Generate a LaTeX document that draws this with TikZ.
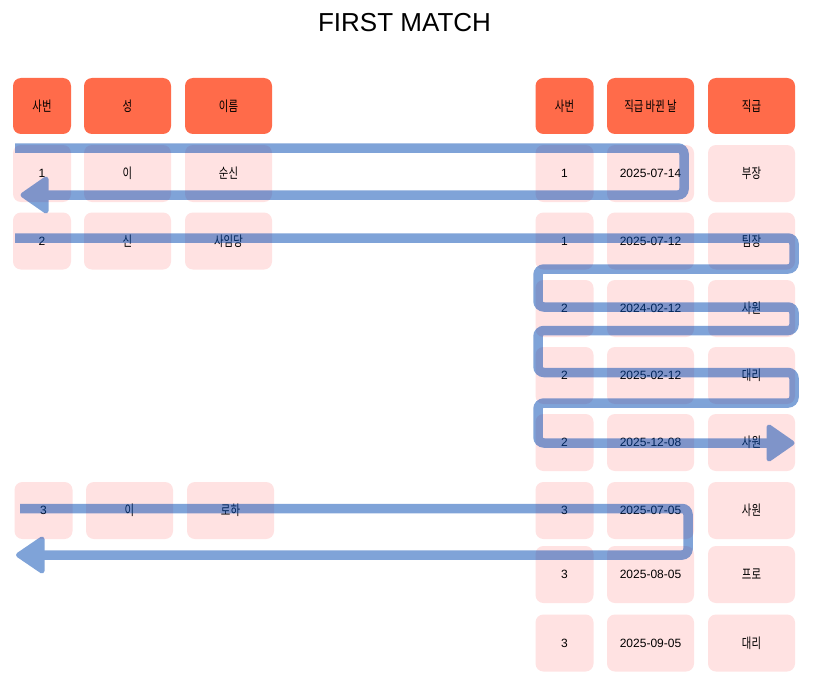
\documentclass[tikz,border=0pt]{standalone}
\usepackage{fontspec}
\setmainfont{Liberation Sans}
\newfontfamily\kr[FakeStretch=0.74]{Noto Sans CJK KR}
\usepackage{tikz}

\definecolor{hdred}{HTML}{FF6B4A}
\definecolor{cellpink}{HTML}{FFE2E2}
\definecolor{flowblue}{RGB}{0,72,178}

\begin{document}
\begin{tikzpicture}[x=1pt, y=-1pt,
  hd/.style={fill=hdred, rounded corners=8pt, minimum height=56pt, inner sep=0pt, font=\fontsize{12}{14}\selectfont},
  cell/.style={fill=cellpink, rounded corners=8pt, minimum height=57pt, inner sep=0pt, font=\fontsize{12}{14}\selectfont},
  sm/.style={minimum width=58pt},
  lg/.style={minimum width=87pt},
  ko/.style={font=\fontsize{14}{16}\selectfont\kr},
  flow/.style={draw=flowblue, line width=9.5pt, rounded corners=6pt},
  flowhead/.style={fill=flowblue, draw=flowblue, line width=5pt, line join=round}]
\path[fill=white,use as bounding box] (0,0) rectangle (816,682);

\node[font=\fontsize{26}{30}\selectfont] (title) at (404.5,22.5) {FIRST MATCH};

% left table
\node[hd, sm, ko] (l0a) at (42,106) {사번};
\node[hd, lg, ko] (l0b) at (127.5,106) {성};
\node[hd, lg, ko] (l0c) at (228.5,106) {이름};

\node[cell, sm] (l1a) at (42,173.5) {1};
\node[cell, lg, ko] (l1b) at (127.5,173.5) {이};
\node[cell, lg, ko] (l1c) at (228.5,173.5) {순신};

\node[cell, sm] (l2a) at (42,241) {2};
\node[cell, lg, ko] (l2b) at (127.5,241) {신};
\node[cell, lg, ko] (l2c) at (228.5,241) {사임당};

\node[cell, sm] (l3a) at (43.5,510.5) {3};
\node[cell, lg, ko] (l3b) at (129.5,510.5) {이};
\node[cell, lg, ko] (l3c) at (230.5,510.5) {로하};

% right table
\node[hd, sm, ko] (r0a) at (564.5,106) {사번};
\node[hd, lg, ko] (r0b) at (650.5,106) {직급 바뀐 날};
\node[hd, lg, ko] (r0c) at (751.5,106) {직급};

\node[cell, sm] (r1a) at (564.5,173.5) {1};
\node[cell, lg] (r1b) at (650.5,173.5) {2025-07-14};
\node[cell, lg, ko] (r1c) at (751.5,173.5) {부장};

\node[cell, sm] (r2a) at (564.5,241) {1};
\node[cell, lg] (r2b) at (650.5,241) {2025-07-12};
\node[cell, lg, ko] (r2c) at (751.5,241) {팀장};

\node[cell, sm] (r3a) at (564.5,308.5) {2};
\node[cell, lg] (r3b) at (650.5,308.5) {2024-02-12};
\node[cell, lg, ko] (r3c) at (751.5,308.5) {사원};

\node[cell, sm] (r4a) at (564.5,375.5) {2};
\node[cell, lg] (r4b) at (650.5,375.5) {2025-02-12};
\node[cell, lg, ko] (r4c) at (751.5,375.5) {대리};

\node[cell, sm] (r5a) at (564.5,442.5) {2};
\node[cell, lg] (r5b) at (650.5,442.5) {2025-12-08};
\node[cell, lg, ko] (r5c) at (751.5,442.5) {사원};

\node[cell, sm] (r6a) at (564.5,510.5) {3};
\node[cell, lg] (r6b) at (650.5,510.5) {2025-07-05};
\node[cell, lg, ko] (r6c) at (751.5,510.5) {사원};

\node[cell, sm] (r7a) at (564.5,574.5) {3};
\node[cell, lg] (r7b) at (650.5,574.5) {2025-08-05};
\node[cell, lg, ko] (r7c) at (751.5,574.5) {프로};

\node[cell, sm] (r8a) at (564.5,643) {3};
\node[cell, lg] (r8b) at (650.5,643) {2025-09-05};
\node[cell, lg, ko] (r8c) at (751.5,643) {대리};

% match arrows
\coordinate (s1) at (15,148);
\coordinate (e1) at (23,195);
\coordinate (s2) at (15,238);
\coordinate (e2) at (792,443);
\coordinate (s3) at (20,508.5);
\coordinate (e3) at (18.5,555);

\begin{scope}[transparency group, opacity=0.5]
\draw[flow] (s1) -- (684,148) -- (684,195) -- (46,195);
\fill[flowhead] (e1) -- (46,179) -- (46,211) -- cycle;
\end{scope}

\begin{scope}[transparency group, opacity=0.5]
\draw[flow] (s2) -- (794,238) -- (794,269) -- (538,269) -- (538,307)
  -- (794,307) -- (794,330.5) -- (538,330.5) -- (538,372.5)
  -- (794,372.5) -- (794,403) -- (538,403) -- (538,443) -- (769,443);
\fill[flowhead] (e2) -- (769,427) -- (769,459) -- cycle;
\end{scope}

\begin{scope}[transparency group, opacity=0.5]
\draw[flow] (s3) -- (688,508.5) -- (688,555) -- (42,555);
\fill[flowhead] (e3) -- (42,539) -- (42,571) -- cycle;
\end{scope}
\end{tikzpicture}
\end{document}
